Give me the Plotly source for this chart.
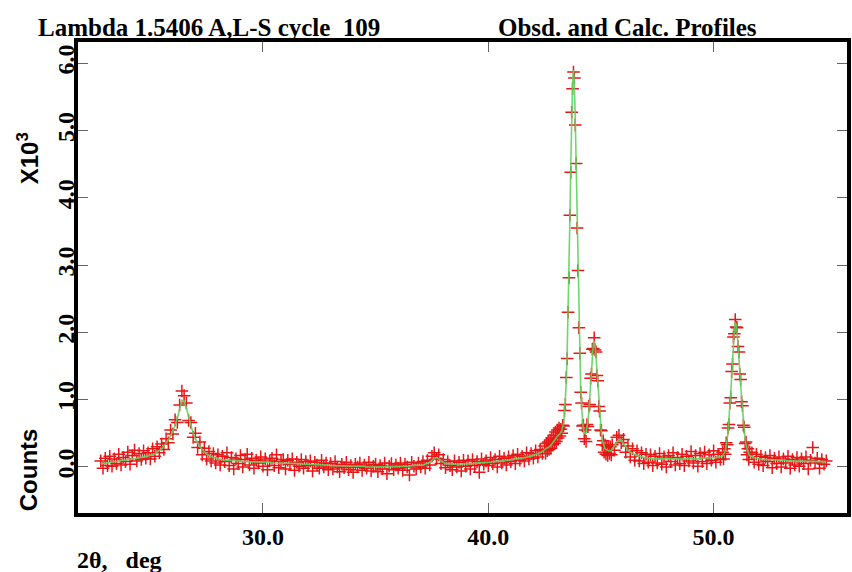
import numpy as np
import plotly.graph_objects as go

# ---- scan definition (2-theta start / step of each recorded block) ----
scan_start = [22.8, 42.5, 45.5, 50.44, 51.7]
scan_step = [0.1, 0.04, 0.1, 0.04, 0.1]

# ---- observed counts (x10^3) per block ----
obs_a = [0.09, -0.02,
         0.13, 0.02, 0.16, 0.01, 0.12, 0.05, 0.19, 0.03, 0.14, 0.08,
         0.22, 0.04, 0.17, 0.25, 0.09, 0.20, 0.11, 0.24, 0.13, 0.21,
         0.12, 0.27, 0.16, 0.30, 0.21, 0.34, 0.26, 0.42, 0.36, 0.55,
         0.49, 0.70, 0.66, 0.92, 1.13, 1.06, 0.95, 0.69, 0.66, 0.44,
         0.50, 0.29, 0.37, 0.18, 0.28, 0.12, 0.23, 0.09, 0.20, 0.06,
         0.18, 0.03, 0.16, 0.08, 0.21, 0.02, 0.14, -0.03, 0.12, 0.05,
         0.17, 0.00, 0.11, 0.19, 0.03, 0.13, -0.02, 0.10, 0.06, 0.15,
         0.01, 0.12, -0.04, 0.09, 0.13, 0.02, 0.18, -0.01, 0.08, 0.11,
         -0.03, 0.10, 0.04, 0.12, -0.05, 0.07, 0.01, 0.11, -0.02, 0.08,
         0.02, 0.09, -0.06, 0.07, 0.03, -0.02, 0.10, 0.00, 0.06, -0.04,
         0.05, -0.03, 0.08, 0.00, -0.07, 0.04, -0.01, 0.07, -0.04, 0.02,
         -0.08, 0.04, 0.00, 0.06, -0.05, 0.03, -0.02, 0.07, -0.06, 0.01,
         0.04, -0.07, 0.02, -0.03, 0.06, -0.10, 0.01, 0.05, -0.04, 0.03,
         -0.02, 0.06, -0.05, 0.04, 0.00, -0.12, 0.07, 0.01, -0.03, 0.06,
         0.00, 0.08, -0.02, 0.10, 0.03, 0.16, 0.21, 0.12, 0.18, 0.05,
         0.11, -0.01, 0.08, 0.02, -0.04, 0.09, 0.00, 0.07, -0.06, 0.10,
         0.01, 0.09, -0.03, 0.11, 0.02, 0.08, -0.08, 0.12, 0.04, 0.09,
         0.02, 0.14, 0.05, 0.11, 0.00, 0.16, 0.06, 0.13, 0.03, 0.15,
         0.08, 0.17, 0.05, 0.19, 0.10, 0.16, 0.09, 0.21, 0.12, 0.20,
         0.13, 0.24, 0.15, 0.26, 0.20]
obs_b = [0.31, 0.20, 0.35, 0.24, 0.37, 0.26, 0.40, 0.28, 0.43, 0.33,
         0.47, 0.35, 0.52, 0.38, 0.55, 0.43, 0.58, 0.46, 0.56, 0.50,
         0.62, 0.61, 0.84, 0.93, 1.33, 1.61, 2.30, 2.81, 3.74, 4.38,
         5.27, 5.62, 5.87, 5.78, 5.08, 4.51, 3.55, 2.92, 2.07, 1.69,
         1.11, 0.95, 0.61, 0.62, 0.42, 0.55, 0.38, 0.63, 0.60, 0.90,
         0.93, 1.32, 1.38, 1.75, 1.76, 1.92, 1.74, 1.71, 1.36, 1.28,
         0.90, 0.83, 0.55, 0.54, 0.33, 0.39, 0.22, 0.33, 0.19, 0.31,
         0.17, 0.29, 0.20, 0.30, 0.18]
obs_c = [0.33, 0.25, 0.44, 0.47, 0.36, 0.41, 0.22, 0.31, 0.15, 0.27,
         0.10, 0.24, 0.09, 0.21, 0.05, 0.19, 0.07, 0.18, 0.02, 0.16,
         0.06, 0.20, 0.04, 0.15, 0.00, 0.17, 0.08, 0.21, 0.03, 0.14,
         0.05, 0.19, 0.02, 0.16, 0.09, 0.23, 0.06, 0.17, 0.01, 0.20,
         0.08, 0.22, 0.05, 0.18, 0.10, 0.24, 0.07, 0.19, 0.11, 0.22]
obs_d = [0.12, 0.27, 0.19, 0.36, 0.33, 0.58, 0.63, 0.95, 1.03, 1.42,
         1.53, 1.93, 1.98, 2.19, 2.08, 2.07, 1.79, 1.71, 1.38, 1.30,
         0.97, 0.91, 0.62, 0.59, 0.35, 0.37, 0.18, 0.27, 0.11, 0.22]
obs_e = [0.21, 0.07, 0.19, 0.04, 0.16, 0.02, 0.14, 0.08, 0.17, -0.01,
         0.13, 0.05, 0.15, 0.00, 0.12, 0.06, 0.16, -0.02, 0.11, 0.03,
         0.14, 0.01, 0.12, 0.05, 0.15, -0.03, 0.10, 0.29, 0.06, 0.13,
         -0.02, 0.11, 0.04, 0.09]

# ---- calculated profile (x10^3) per block ----
calc_a = [0.05, 0.06,
          0.06, 0.06, 0.07, 0.07, 0.08, 0.08, 0.09, 0.09, 0.10, 0.10,
          0.11, 0.11, 0.12, 0.12, 0.13, 0.13, 0.14, 0.15, 0.15, 0.16,
          0.17, 0.18, 0.20, 0.22, 0.24, 0.27, 0.31, 0.35, 0.40, 0.46,
          0.53, 0.62, 0.73, 0.86, 0.99, 0.98, 0.88, 0.74, 0.60, 0.50,
          0.42, 0.35, 0.30, 0.26, 0.22, 0.19, 0.17, 0.15, 0.14, 0.13,
          0.12, 0.11, 0.11, 0.10, 0.10, 0.10, 0.09, 0.09, 0.09, 0.09,
          0.09, 0.08, 0.08, 0.08, 0.08, 0.08, 0.08, 0.07, 0.07, 0.07,
          0.07, 0.07, 0.07, 0.07, 0.06, 0.06, 0.06, 0.06, 0.06, 0.06,
          0.06, 0.06, 0.05, 0.05, 0.05, 0.05, 0.05, 0.05, 0.04, 0.04,
          0.04, 0.04, 0.04, 0.04, 0.03, 0.03, 0.03, 0.03, 0.03, 0.03,
          0.02, 0.02, 0.02, 0.02, 0.02, 0.02, 0.01, 0.01, 0.01, 0.01,
          0.01, 0.01, 0.01, 0.01, 0.01, 0.01, 0.00, 0.00, 0.00, 0.00,
          0.00, 0.00, 0.00, 0.00, 0.00, 0.00, 0.00, 0.00, 0.00, 0.00,
          0.00, 0.01, 0.01, 0.01, 0.01, 0.01, 0.02, 0.02, 0.02, 0.03,
          0.03, 0.03, 0.04, 0.05, 0.07, 0.10, 0.13, 0.14, 0.12, 0.09,
          0.07, 0.05, 0.05, 0.04, 0.04, 0.04, 0.04, 0.04, 0.04, 0.05,
          0.05, 0.05, 0.05, 0.05, 0.06, 0.06, 0.06, 0.06, 0.07, 0.07,
          0.07, 0.07, 0.08, 0.08, 0.08, 0.09, 0.09, 0.09, 0.10, 0.10,
          0.11, 0.11, 0.12, 0.12, 0.13, 0.13, 0.14, 0.14, 0.15, 0.16,
          0.17, 0.18, 0.19, 0.21, 0.23]
calc_b = [0.27, 0.27, 0.28, 0.28, 0.29, 0.30, 0.31, 0.32, 0.34, 0.36,
          0.38, 0.40, 0.42, 0.44, 0.46, 0.47, 0.48, 0.49, 0.51, 0.54,
          0.58, 0.65, 0.78, 0.98, 1.26, 1.68, 2.22, 2.89, 3.66, 4.46,
          5.18, 5.70, 5.90, 5.70, 5.16, 4.42, 3.62, 2.83, 2.16, 1.60,
          1.18, 0.88, 0.68, 0.56, 0.51, 0.49, 0.51, 0.57, 0.68, 0.82,
          1.01, 1.24, 1.46, 1.67, 1.82, 1.87, 1.81, 1.65, 1.44, 1.21,
          0.97, 0.77, 0.61, 0.49, 0.40, 0.34, 0.30, 0.27, 0.26, 0.25,
          0.24, 0.24, 0.24, 0.24, 0.24]
calc_c = [0.27, 0.31, 0.37, 0.41, 0.40, 0.35, 0.29, 0.25, 0.22, 0.20,
          0.18, 0.17, 0.16, 0.15, 0.14, 0.14, 0.13, 0.13, 0.12, 0.12,
          0.12, 0.12, 0.11, 0.11, 0.11, 0.11, 0.11, 0.11, 0.11, 0.11,
          0.11, 0.11, 0.11, 0.12, 0.12, 0.12, 0.12, 0.12, 0.12, 0.13,
          0.13, 0.13, 0.13, 0.13, 0.14, 0.14, 0.14, 0.15, 0.15, 0.16]
calc_d = [0.19, 0.21, 0.25, 0.31, 0.40, 0.52, 0.68, 0.88, 1.10, 1.34,
          1.60, 1.84, 2.03, 2.15, 2.12, 2.01, 1.85, 1.66, 1.45, 1.24,
          1.04, 0.85, 0.68, 0.53, 0.41, 0.32, 0.26, 0.22, 0.19, 0.17]
calc_e = [0.15, 0.14, 0.13, 0.12, 0.12, 0.11, 0.11, 0.11, 0.11, 0.10,
          0.10, 0.10, 0.10, 0.10, 0.10, 0.10, 0.09, 0.09, 0.09, 0.09,
          0.09, 0.09, 0.09, 0.09, 0.09, 0.09, 0.08, 0.08, 0.08, 0.08,
          0.08, 0.08, 0.08, 0.08]

# ---- tick labels ----
x_tickvals = [30, 40, 50]
x_ticktext = ["30.0", "40.0", "50.0"]
y_tickvals = [0, 1, 2, 3, 4, 5, 6]
y_ticktext = ["0.0", "1.0", "2.0", "3.0", "4.0", "5.0", "6.0"]

obs_blocks = [obs_a, obs_b, obs_c, obs_d, obs_e]
calc_blocks = [calc_a, calc_b, calc_c, calc_d, calc_e]
for o, c in zip(obs_blocks, calc_blocks):
    assert len(o) == len(c)

two_theta = np.concatenate([np.round(s + d * np.arange(len(v)), 3)
                            for s, d, v in zip(scan_start, scan_step, obs_blocks)])
obs_all = np.concatenate(obs_blocks)
calc_all = np.concatenate(calc_blocks)

fig = go.Figure()
fig.add_trace(go.Scatter(
    x=two_theta, y=obs_all, mode="markers", showlegend=False,
    marker=dict(symbol="cross-thin", size=9,
                line=dict(width=1.5, color="rgb(232,22,22)")),
))
fig.add_trace(go.Scatter(
    x=two_theta, y=calc_all, mode="lines", showlegend=False,
    line=dict(color="rgba(95,210,95,0.9)", width=1.6),
))

tick_font = dict(family="Liberation Serif", size=24, color="black", weight="bold")
title_font = dict(family="Liberation Serif", size=25, color="black", weight="bold")
sans_bold = dict(family="Liberation Sans", size=24, color="black", weight="bold")

axis_common = dict(
    showgrid=False, zeroline=False, showline=True, linewidth=4,
    linecolor="black", mirror="ticks", ticks="inside", ticklen=10,
    tickwidth=1, tickcolor="#666666", tickfont=tick_font,
)
fig.update_xaxes(range=[21.79, 55.92], tickvals=x_tickvals, ticktext=x_ticktext,
                 ticklabelstandoff=-1, **axis_common)
fig.update_yaxes(range=[-0.684, 6.315], tickvals=y_tickvals, ticktext=y_ticktext,
                 tickangle=-90, ticklabelstandoff=-10, **axis_common)

W, H = 852, 572
L, R, T, B = 78, 1, 42, 59
pw, ph = W - L - R, H - T - B


def px(xp):
    return (xp - L) / pw


def py(yp):
    return (H - B - yp) / ph


annos = [
    dict(text="Lambda 1.5406 A,L-S cycle\u00a0 109", x=px(36), y=py(27),
         xanchor="left", yanchor="middle", font=title_font),
    dict(text="Obsd. and Calc. Profiles", x=px(498), y=py(27),
         xanchor="left", yanchor="middle", font=title_font),
    dict(text="X10<sup>3</sup>", x=px(28), y=py(158), textangle=-90,
         xanchor="center", yanchor="middle", font=sans_bold),
    dict(text="Counts", x=px(28), y=py(470), textangle=-90,
         xanchor="center", yanchor="middle", font=sans_bold),
    dict(text="2\u03b8,\u00a0\u00a0 deg", x=px(75), y=py(560),
         xanchor="left", yanchor="middle", font=tick_font),
]
for a in annos:
    fig.add_annotation(xref="paper", yref="paper", showarrow=False, **a)

fig.update_layout(
    width=W, height=H, margin=dict(l=L, r=R, t=T, b=B, pad=0),
    plot_bgcolor="white", paper_bgcolor="white",
)
fig.write_html("out.html")
